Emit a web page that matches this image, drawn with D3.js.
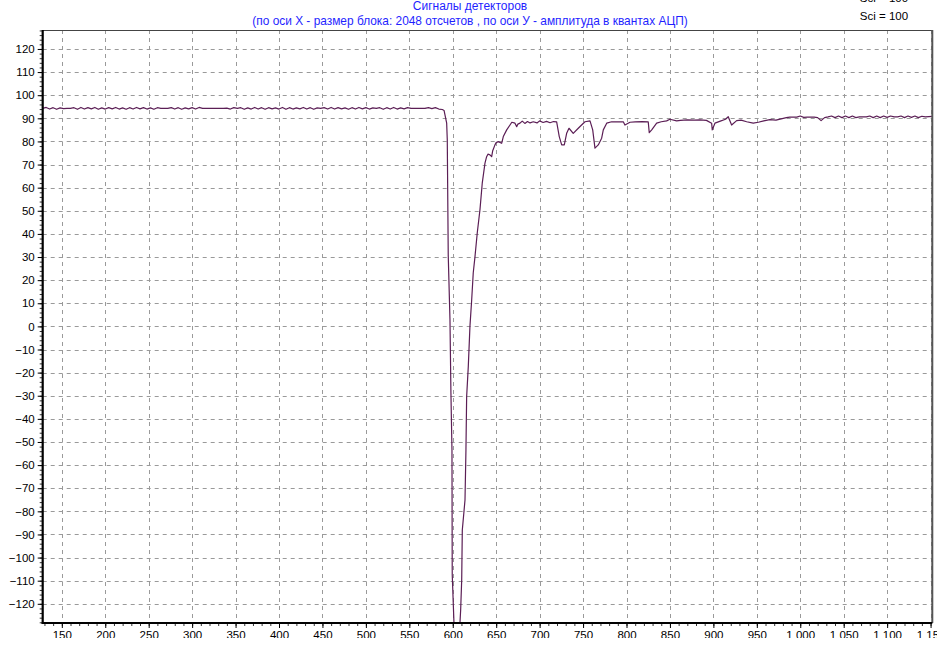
<!DOCTYPE html>
<html><head><meta charset="utf-8">
<script src="https://cdn.jsdelivr.net/npm/d3@7"></script>
<style>
html,body{margin:0;padding:0;background:#fff;}
svg{display:block;}
</style></head>
<body>
<svg id="chart" width="952" height="648"></svg>
<script>
// ---- data ----
const titleLine1 = "Сигналы детекторов";
const titleLine2 = "(по оси X - размер блока: 2048 отсчетов , по оси У - амплитуда в квантах АЦП)";
const infoLabel = "Sci = 100";
const xDomain = [128, 1152];
const yDomain = [-128.3, 128.2];
const xTickValues = [150,200,250,300,350,400,450,500,550,600,650,700,750,800,850,900,950,1000,1050,1100,1150];
const yTickValues = [-120,-110,-100,-90,-80,-70,-60,-50,-40,-30,-20,-10,0,10,20,30,40,50,60,70,80,90,100,110,120];

// baseline before the pulse: samples 128..588, every 4
const baselineStart = 128, baselineStep = 4;
const baselineY = [
 94.3,94.7,94.0,94.6,93.9,94.5,94.2,94.3,94.3,94.6,93.9,94.7,
 94.0,94.6,94.1,94.7,93.9,94.5,94.0,94.6,94.1,94.7,94.0,94.5,
 93.9,94.6,94.0,94.7,94.1,94.6,94.0,94.5,93.9,94.6,94.3,94.3,
 94.3,94.6,94.0,94.6,93.9,94.5,94.1,94.6,94.0,94.7,94.3,94.3,
 94.3,94.3,94.3,94.3,94.3,94.4,94.0,94.6,94.3,94.6,93.9,94.5,
 94.0,94.7,94.0,94.6,93.9,94.6,94.1,94.5,94.0,94.7,93.9,94.6,
 94.0,94.5,94.1,94.7,94.0,94.6,93.9,94.5,94.3,94.6,94.0,94.7,
 94.0,94.6,94.1,94.5,93.9,94.6,94.0,94.7,94.1,94.6,94.0,94.5,
 94.3,94.6,93.9,94.6,94.0,94.7,94.0,94.5,94.1,94.6,94.3,94.3,
 94.3,94.3,94.3,94.6,94.2,94.6,94.0,93.8
];

// the pulse (drop and recovery)
const pulse = [
 [590,93.4],[591.1,91.4],[593,87.9],[593.7,80.6],[594.8,30.9],[596.8,2.9],[597.9,-28.7],
 [599.1,-53.3],[599.4,-107.3],[601.4,-128.3],[603,-140],[606,-142],[608.3,-128.3],
 [609.1,-122.7],[610.3,-109.7],[611,-88.1],[614.1,-75.1],[615.2,-53.3],[616,-30.3],
 [617.9,-17.3],[619.8,0],[621.8,11.5],[623.6,23.2],[625.6,30.2],[628.2,40.4],[631.3,50.4],
 [634,62.1],[637.1,70.6],[639,73.4],[640.5,74.5],[642.8,74.2],[644.8,73.4],[646,76],
 [648.6,78.5],[650,79.5],[652.4,79.9],[656.3,79.2],[658.2,82.1],[662.1,85.0],[665.9,87.1],
 [668,88.3],[671.6,87.9],[673.6,86.4],[675,87.5],[677.4,87.9],[680,88.8],[683,87.8],
 [686,88.6],[689,88.0]
];

// settling part with small dips
const settling = [
 [692.7,88.5],[697,88.0],[700,88.9],[704,88.2],[708,88.7],[712,88.1],[716,88.6],[719.6,88.5],
 [722.6,82.1],[725.4,78.5],[728.4,78.5],[731.1,83.5],[733.8,85.7],[738.7,83.5],[744.5,85.7],
 [748,87],[752.2,88.5],[758,88.9],[761.1,85],[763.7,77.1],[767.5,78.5],[771.4,81.4],[773.3,85],
 [777.2,87.9],[782.9,88.5],[796.3,88.5],[798.2,87.1],[804,88.3],[810,88.5],[818,88.6],
 [825,88.5],[826.2,83.8],[829,85],[834.7,87.9],[840,88.5],[846.2,88.9],[850,89.6],[857.7,88.9],
 [862,89.1],[870,89.3],[878,89.2],[884.5,89.3],[892,89.1],[898,87.9],[898.7,85],[901.8,87.9],
 [908,88.8],[914,89.6],[917.1,90.7],[921,87.1],[926.8,89.0],[932,89.2],[938.3,88.5],
 [945.9,87.9],[951.7,88.3],[958,88.9],[965,89.4],[972,89.2],[980.4,90.0]
];

// tail: samples 984..1152, every 4
const tailStart = 984, tailStep = 4;
const tailY = [
 90.3,90.5,90.5,90.5,91.0,90.4,90.5,90.5,90.5,90.3,89.0,90.3,90.6,91.0,90.3,91.0,
 90.3,91.0,90.3,91.0,90.3,90.6,90.6,90.6,91.0,90.3,91.0,90.3,91.0,90.4,91.0,90.6,
 90.6,91.0,90.3,91.0,90.4,91.0,90.3,90.9,90.6,90.7,90.8
];

// ---- build ----
const signal = []
  .concat(baselineY.map((v,i)=>[baselineStart + i*baselineStep, v]))
  .concat(pulse)
  .concat(settling)
  .concat(tailY.map((v,i)=>[tailStart + i*tailStep, v]));

const svg = d3.select("#chart");
const W = 952, H = 648;
const pLeft = 42.7, pRight = 932.3, pTop = 30, pBottom = 623;

const x = d3.scaleLinear().domain(xDomain).range([pLeft, pRight]);
const y = d3.scaleLinear().domain(yDomain).range([pBottom, pTop]);

const loc = d3.formatLocale({decimal: ",", thousands: " ", grouping: [3], currency: ["", ""]});
const fmtX = loc.format(",d");
const fmtY = d3.format("d");

const defs = svg.append("defs");
defs.append("clipPath").attr("id","plotClip").append("rect")
  .attr("x", pLeft).attr("y", pTop).attr("width", pRight-pLeft).attr("height", pBottom-pTop);
defs.append("clipPath").attr("id","canvasClip").append("rect")
  .attr("x", 0).attr("y", 0).attr("width", 937).attr("height", 638);

svg.append("rect").attr("width", W).attr("height", H).attr("fill", "#fff");

// grid
const grid = svg.append("g").attr("clip-path","url(#plotClip)");
grid.selectAll("line.v").data(xTickValues).enter().append("line")
  .attr("x1", d=>Math.round(x(d))+0.5).attr("x2", d=>Math.round(x(d))+0.5)
  .attr("y1", pTop).attr("y2", pBottom)
  .attr("stroke", "#9a9a9a").attr("stroke-width", 1).attr("stroke-dasharray", "4,4");
grid.selectAll("line.h").data(yTickValues).enter().append("line")
  .attr("y1", d=>Math.round(y(d))+0.5).attr("y2", d=>Math.round(y(d))+0.5)
  .attr("x1", pLeft).attr("x2", pRight)
  .attr("stroke", "#9a9a9a").attr("stroke-width", 1).attr("stroke-dasharray", "4,4");

// signal line
const line = d3.line().x(d=>x(d[0])).y(d=>y(d[1]));
svg.append("g").attr("clip-path","url(#plotClip)")
  .append("path").datum(signal)
  .attr("d", line).attr("fill","none")
  .attr("stroke", "#5b1e55").attr("stroke-width", 1.2).attr("stroke-linejoin","round");

// axes
const axG = svg.append("g").attr("clip-path","url(#canvasClip)");

const xMinor = d3.range(130, 1152, 10);
const xMinorAxis = d3.axisBottom(x).tickValues(xMinor).tickSize(3).tickFormat("");
axG.append("g").attr("transform", `translate(0,${pBottom})`).call(xMinorAxis)
  .call(g=>g.select(".domain").remove())
  .call(g=>g.selectAll("line").attr("stroke","#333"));
const yMinor = d3.range(-128, 129, 2);
const yMinorAxis = d3.axisLeft(y).tickValues(yMinor).tickSize(3).tickFormat("");
axG.append("g").attr("transform", `translate(${pLeft},0)`).call(yMinorAxis)
  .call(g=>g.select(".domain").remove())
  .call(g=>g.selectAll("line").attr("stroke","#333"));

const xAxis = d3.axisBottom(x).tickValues(xTickValues).tickSize(5).tickPadding(3).tickFormat(fmtX);
axG.append("g").attr("transform", `translate(0,${pBottom})`).call(xAxis)
  .call(g=>g.select(".domain").remove())
  .call(g=>g.selectAll("line").attr("stroke","#000"))
  .call(g=>g.selectAll("text").attr("font-family","'Liberation Sans', Arial, sans-serif")
     .attr("font-size", 11.5).attr("fill","#000"));

const yAxis = d3.axisLeft(y).tickValues(yTickValues).tickSize(5).tickPadding(3).tickFormat(fmtY);
axG.append("g").attr("transform", `translate(${pLeft},0)`).call(yAxis)
  .call(g=>g.select(".domain").remove())
  .call(g=>g.selectAll("line").attr("stroke","#000"))
  .call(g=>g.selectAll("text").attr("font-family","'Liberation Sans', Arial, sans-serif")
     .attr("font-size", 11.5).attr("fill","#000"));

// frame
svg.append("line").attr("x1", pLeft).attr("x2", pRight).attr("y1", pTop+0.5).attr("y2", pTop+0.5)
  .attr("stroke", "#444").attr("stroke-width", 1);
svg.append("line").attr("x1", pRight).attr("x2", pRight).attr("y1", pTop).attr("y2", pBottom)
  .attr("stroke", "#555").attr("stroke-width", 2);
svg.append("line").attr("x1", pLeft).attr("x2", pLeft).attr("y1", pTop).attr("y2", pBottom+1)
  .attr("stroke", "#000").attr("stroke-width", 2.2);
svg.append("line").attr("x1", pLeft-1).attr("x2", pRight).attr("y1", pBottom).attr("y2", pBottom)
  .attr("stroke", "#000").attr("stroke-width", 2.2);

// titles
const tf = "'Liberation Sans', Arial, sans-serif";
svg.append("text").attr("x", 470).attr("y", 10).attr("text-anchor","middle")
  .attr("font-family", tf).attr("font-size", 12).attr("fill", "#1f1fff").text(titleLine1);
svg.append("text").attr("x", 470).attr("y", 25).attr("text-anchor","middle")
  .attr("font-family", tf).attr("font-size", 11.9).attr("fill", "#1f1fff").text(titleLine2);
svg.append("text").attr("x", 884).attr("y", 20).attr("text-anchor","middle")
  .attr("font-family", tf).attr("font-size", 11.5).attr("fill", "#000").text(infoLabel);
svg.append("text").attr("x", 884).attr("y", 2).attr("text-anchor","middle")
  .attr("font-family", tf).attr("font-size", 11.5).attr("fill", "#000").text(infoLabel);
</script>
</body></html>
